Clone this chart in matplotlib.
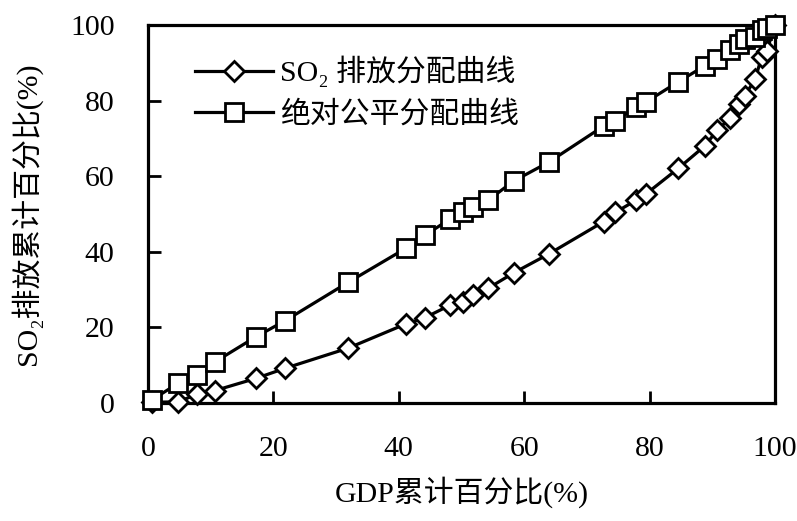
import matplotlib
matplotlib.use("Agg")
import matplotlib.pyplot as plt

plt.rcParams['font.family'] = ['Liberation Serif', 'Noto Sans CJK SC', 'DejaVu Sans']

gdp_cum = [0.6, 4.8, 7.8, 10.7, 17.2, 21.9, 31.9, 41.1, 44.2, 48.2, 50.2, 51.8, 54.3,
           58.3, 63.9, 72.7, 74.5, 77.9, 79.5, 84.6, 88.8, 90.8, 92.8, 94.3, 95.2,
           96.8, 97.9, 98.7, 100.0]
so2_cum = [0.2, 0.3, 2.3, 3.3, 6.5, 9.2, 14.5, 20.9, 22.6, 25.9, 26.8, 28.6, 30.4,
           34.4, 39.4, 48.0, 50.4, 53.7, 55.4, 62.1, 68.0, 72.2, 75.3, 79.0, 81.3,
           85.6, 91.6, 93.2, 100.0]
equal_cum = [0.8, 5.2, 7.4, 10.9, 17.5, 21.8, 31.9, 40.9, 44.4, 48.7, 50.6, 51.9, 53.7,
             58.7, 63.7, 73.3, 74.6, 78.4, 79.7, 85.0, 89.2, 91.0, 93.5, 94.9, 96.3,
             96.9, 98.8, 99.2, 100.0]

labels = ['SO\u2082 排放分配曲线', '绝对公平分配曲线']
xticks = [0, 20, 40, 60, 80, 100]
yticks = [0, 20, 40, 60, 80, 100]

fig = plt.figure(figsize=(7.97, 5.21), dpi=100)
ax = fig.add_axes([0.1857, 0.2265, 0.9724 - 0.1857, 0.952 - 0.2265])

ax.plot(gdp_cum, so2_cum, color='black', lw=2.3, marker='D', markersize=10,
        markerfacecolor='white', markeredgecolor='black', markeredgewidth=2.0,
        label=labels[0], clip_on=False, zorder=3)
ax.plot(gdp_cum, equal_cum, color='black', lw=2.3, marker='s', markersize=13,
        markerfacecolor='white', markeredgecolor='black', markeredgewidth=2.0,
        label=labels[1], clip_on=False, zorder=4)

ax.set_xlim(0, 100)
ax.set_ylim(0, 100)
ax.set_xticks(xticks)
ax.set_yticks(yticks)
ax.tick_params(direction='in', length=9, width=2, labelsize=21.5)
ax.tick_params(axis='x', pad=24)
ax.tick_params(axis='y', pad=24)
for s in ax.spines.values():
    s.set_linewidth(2.3)

ax.set_xlabel('GDP累计百分比(%)', fontsize=21.5, labelpad=10)
ax.set_ylabel('SO\u2082排放累计百分比(%)', fontsize=21.5, labelpad=20)

leg = ax.legend(loc='upper left', bbox_to_anchor=(0.047, 0.966), frameon=False,
                fontsize=21.5, handlelength=2.6, handletextpad=0.25, labelspacing=0.45,
                borderaxespad=0.2)

fig.savefig('out.png', dpi=100)
